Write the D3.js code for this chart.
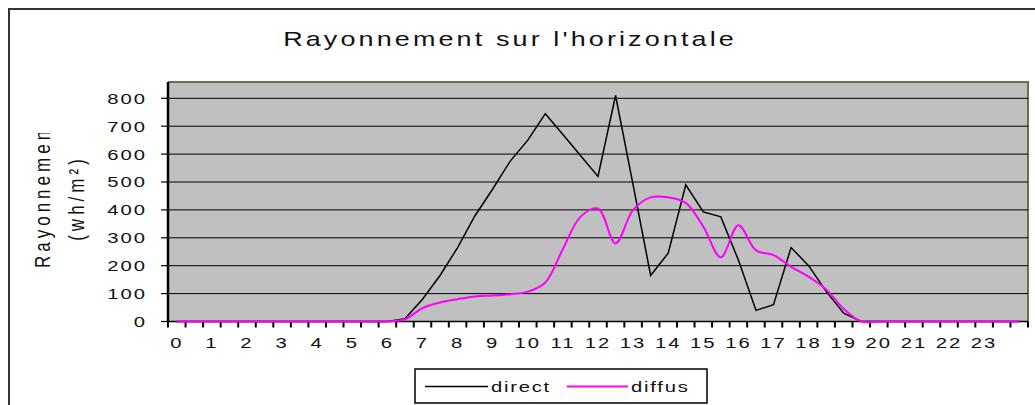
<!DOCTYPE html>
<html>
<head>
<meta charset="utf-8">
<script src="https://cdn.jsdelivr.net/npm/d3@7/dist/d3.min.js"></script>
<style>
  body { margin: 0; background: #fff; }
  svg { display: block; }
  text { font-family: Arial, "Liberation Sans", sans-serif; fill: #111; }
</style>
</head>
<body>
<script>
// heures (pas de 30 min)
const heures = ["0","0.5","1","1.5","2","2.5","3","3.5","4","4.5","5","5.5","6","6.5",
  "7","7.5","8","8.5","9","9.5","10","10.5","11","11.5","12","12.5","13","13.5",
  "14","14.5","15","15.5","16","16.5","17","17.5","18","18.5","19","19.5","20","20.5",
  "21","21.5","22","22.5","23","23.5","24"];

const direct = [0,0,0,0,0,0,0,0,0,0,0,0,0,10,
  80,165,265,380,475,575,650,745,670,595,520,810,490,165,
  245,490,393,375,220,40,60,265,200,108,30,0,0,0,
  0,0,0,0,0,0,0];

const diffus = [0,0,0,0,0,0,0,0,0,0,0,0,0,8,
  48,68,80,90,93,98,107,140,260,375,405,280,400,445,
  445,425,340,230,345,255,238,196,160,115,45,0,0,0,
  0,0,0,0,0,0,0];

const yTicks = [0,100,200,300,400,500,600,700,800];
const xLabels = ["0","1","2","3","4","5","6","7","8","9","10","11","12",
  "13","14","15","16","17","18","19","20","21","22","23"];

const w = 1035;
const h = 405;
const sx = 1.35; // l'image d'origine est etiree horizontalement
const plotLeft = 168, plotRight = 1028, plotTop = 82;

const svg = d3.select("body").append("svg").attr("width", w).attr("height", h);

// petit helper pour le texte etire
function txt(x, y, s, size, ls, anchor) {
  return svg.append("text")
    .attr("transform", "translate(" + x + "," + y + ") scale(" + sx + ",1)")
    .attr("text-anchor", anchor || "start")
    .style("font-size", size + "px")
    .style("letter-spacing", ls + "px")
    .text(s);
}

// cadre exterieur
svg.append("rect")
  .attr("x", 9).attr("y", 9)
  .attr("width", 1100).attr("height", 500)
  .attr("fill", "none").attr("stroke", "#333").attr("stroke-width", 2);

const xScale = d3.scaleBand().domain(heures).range([plotLeft, plotRight]).padding(0);
const yScale = d3.scaleLinear().domain([0, 800]).range([321.5, 98.3]);
const cx = d => xScale(d) + xScale.bandwidth() / 2;

// zone de trace
svg.append("rect")
  .attr("x", plotLeft).attr("y", plotTop)
  .attr("width", plotRight - plotLeft).attr("height", yScale(0) - plotTop)
  .attr("fill", "#c0c0c0");

svg.append("path")
  .attr("d", "M" + plotLeft + "," + plotTop + "H" + plotRight + "V" + yScale(0))
  .attr("fill", "none").attr("stroke", "#6e6e50").attr("stroke-width", 2);

// quadrillage
svg.selectAll(".grid")
  .data(yTicks.filter(v => v > 0))
  .enter().append("line")
  .attr("x1", plotLeft).attr("x2", plotRight)
  .attr("y1", d => yScale(d)).attr("y2", d => yScale(d))
  .attr("stroke", "#000").attr("stroke-width", 1);

// axe y
svg.selectAll(".ytick")
  .data(yTicks)
  .enter().append("line")
  .attr("x1", plotLeft - 7).attr("x2", plotLeft)
  .attr("y1", d => yScale(d)).attr("y2", d => yScale(d))
  .attr("stroke", "#000").attr("stroke-width", 1.2);

yTicks.forEach(v => txt(147, yScale(v) + 5.4, String(v), 15, 1.5, "end"));

svg.append("line")
  .attr("x1", plotLeft).attr("x2", plotLeft)
  .attr("y1", plotTop).attr("y2", yScale(0) + 1)
  .attr("stroke", "#000").attr("stroke-width", 2.5);

// axe x : graduations aux limites des categories
const bounds = heures.map(d => xScale(d)).concat([plotRight]);
svg.selectAll(".xtick")
  .data(bounds)
  .enter().append("line")
  .attr("x1", d => d).attr("x2", d => d)
  .attr("y1", yScale(0)).attr("y2", yScale(0) + 6)
  .attr("stroke", "#000").attr("stroke-width", 2);

svg.append("line")
  .attr("x1", plotLeft).attr("x2", plotRight)
  .attr("y1", yScale(0)).attr("y2", yScale(0))
  .attr("stroke", "#000").attr("stroke-width", 1.5);

xLabels.forEach(l => txt(cx(l), 348, l, 15, 1.5, "middle"));

// courbes
const lineDirect = d3.line()
  .x((d, i) => cx(heures[i]))
  .y(d => yScale(d));

const lineDiffus = d3.line()
  .x((d, i) => cx(heures[i]))
  .y(d => yScale(d))
  .curve(d3.curveCatmullRom.alpha(0.5));

svg.append("path")
  .datum(direct)
  .attr("d", lineDirect)
  .attr("fill", "none").attr("stroke", "#000").attr("stroke-width", 1.5);

svg.append("path")
  .datum(diffus)
  .attr("d", lineDiffus)
  .attr("fill", "none").attr("stroke", "#ff00ff").attr("stroke-width", 2);

// titre
txt(510, 46, "Rayonnement sur l'horizontale", 20, 2.3, "middle");

// titre axe y (coupe en haut comme dans l'original)
svg.append("clipPath").attr("id", "clipY")
  .append("rect").attr("x", 0).attr("y", 133).attr("width", 160).attr("height", 200);

const yTitle = svg.append("g").attr("clip-path", "url(#clipY)");
yTitle.append("text")
  .attr("transform", "translate(50,268) scale(" + sx + ",1) rotate(-90)")
  .style("font-size", "17px")
  .style("letter-spacing", "4px")
  .text("Rayonnement");
yTitle.append("text")
  .attr("transform", "translate(83.5,198) scale(" + sx + ",1) rotate(-90)")
  .attr("text-anchor", "middle")
  .style("font-size", "17px")
  .style("letter-spacing", "4px")
  .text("(wh/m²)");

// legende
svg.append("rect")
  .attr("x", 415).attr("y", 369)
  .attr("width", 292).attr("height", 34)
  .attr("fill", "#fff").attr("stroke", "#000").attr("stroke-width", 1.5);

svg.append("line")
  .attr("x1", 425).attr("x2", 488).attr("y1", 386.5).attr("y2", 386.5)
  .attr("stroke", "#000").attr("stroke-width", 1.5);
txt(491, 392, "direct", 15, 1.3);

svg.append("line")
  .attr("x1", 567).attr("x2", 628).attr("y1", 386.5).attr("y2", 386.5)
  .attr("stroke", "#ff00ff").attr("stroke-width", 2);
txt(631, 392, "diffus", 15, 1.3);
</script>
</body>
</html>
